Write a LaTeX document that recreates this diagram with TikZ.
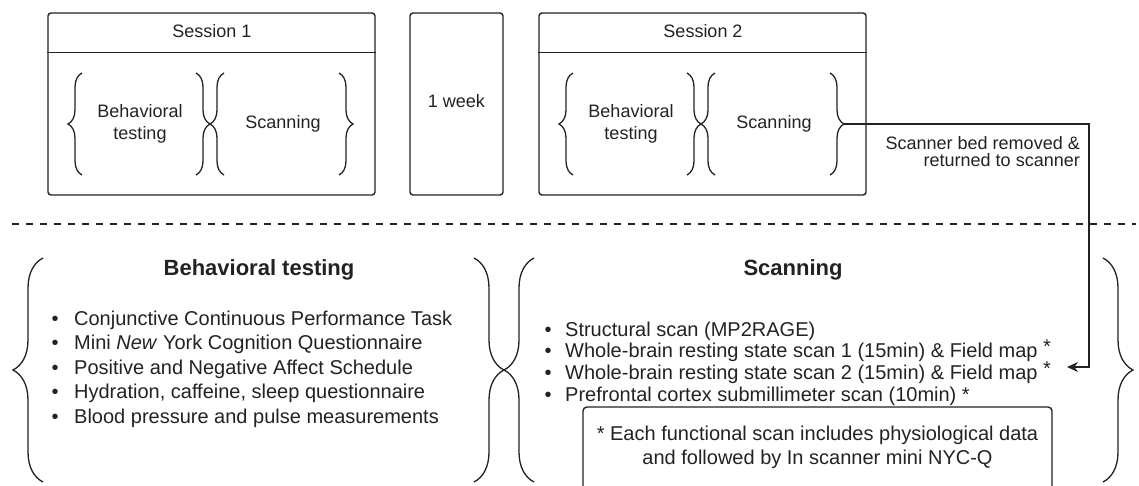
\documentclass[tikz,border=0pt]{standalone}
\usepackage{fontspec}
\setmainfont{Liberation Sans}
\usetikzlibrary{decorations.pathreplacing,arrows.meta}
\definecolor{ink}{HTML}{222222}

\tikzset{
  sessbox/.style={draw=ink, line width=1.4pt, rounded corners=3pt, minimum width=327pt, minimum height=182pt, inner sep=0pt},
  toptext/.style={text=ink, font=\fontsize{18pt}{22.5pt}\selectfont, align=center, inner sep=0pt},
  small curly/.style={draw=ink, line width=1.3pt, decorate, decoration={brace, amplitude=14pt}},
  big curly/.style={draw=ink, line width=1.3pt, decorate, decoration={brace, amplitude=30pt}},
  heading/.style={text=ink, font=\bfseries\fontsize{22pt}{26pt}\selectfont, inner sep=0pt, anchor=base},
  item/.style={text=ink, font=\fontsize{20pt}{24pt}\selectfont, inner sep=0pt, anchor=base west},
  conn/.style={draw=ink, line width=1.6pt, -{Stealth[length=11pt,width=10pt]}},
}

\begin{document}
\begin{tikzpicture}[x=1pt, y=1pt]
  \path[use as bounding box, clip] (0,0) rectangle (1139,-485);

  % the two sessions
  \foreach \n/\dx in {1/0, 2/491} {
    \node[sessbox] (sess\n) at (211.5+\dx,-104) {};
    \draw[ink, line width=1.4pt] ([yshift=-40pt]sess\n.north west) -- ([yshift=-40pt]sess\n.north east);
    \node[toptext, anchor=base] (title\n) at (212+\dx,-37) {Session \n};
    \node[toptext, anchor=north] (beh\n) at (140+\dx,-104) {Behavioral\\testing};
    \node[toptext, anchor=base] (scan\n) at (283+\dx,-128) {Scanning};
    \draw[small curly] (82+\dx,-175) -- (82+\dx,-73);
    \draw[small curly] (196+\dx,-73) -- (196+\dx,-175);
    \draw[small curly] (224+\dx,-175) -- (224+\dx,-73);
    \draw[small curly] (339+\dx,-73) -- (339+\dx,-175);
    \coordinate (scantip\n) at (353+\dx,-124);
  }

  % gap between sessions
  \node[sessbox, minimum width=93pt] (week) at (456.5,-104) {};
  \node[toptext, anchor=base] (weektext) at (456.5,-107) {1 week};

  \draw[ink, line width=1.3pt, dash pattern=on 7pt off 7pt] (12,-224) -- (1136,-224);

  % behavioral testing details
  \draw[big curly] (43,-482) -- (43,-258);
  \draw[big curly] (474,-258) -- (474,-482);
  \node[heading] (behhead) at (259,-275) {Behavioral testing};
  \foreach \txt [count=\i from 0] in {Conjunctive Continuous Performance Task,
      Mini \textit{New} York Cognition Questionnaire,
      Positive and Negative Affect Schedule,
      {Hydration, caffeine, sleep questionnaire},
      Blood pressure and pulse measurements}
    \node[item] (behitem\i) at (51.5,-325-24.5*\i) {\makebox[22.5pt][l]{\textbullet}\txt};

  % scanning details
  \draw[big curly] (534,-482) -- (534,-258);
  \draw[big curly] (1103,-258) -- (1103,-482);
  \node[heading] (scanhead) at (793,-275) {Scanning};
  \foreach \txt [count=\i from 0] in {Structural scan (MP2RAGE),
      Whole-brain resting state scan 1 (15min) \& Field map \raisebox{4pt}{*},
      Whole-brain resting state scan 2 (15min) \& Field map \raisebox{4pt}{*},
      Prefrontal cortex submillimeter scan (10min) *}
    \node[item] (scanitem\i) at (544.5,-336-21.7*\i) {\makebox[20.5pt][l]{\textbullet}\txt};

  \node[draw=ink, line width=1.4pt, rounded corners=4pt, minimum width=469pt, minimum height=90pt] (notebox) at (817.5,-452) {};
  \node[item, anchor=north, align=center] (notetext) at (817.5,-425.5) {* Each functional scan includes physiological data\\and followed by In scanner mini NYC-Q};

  % scanner bed re-entry
  \coordinate (bend) at (1089,-124);
  \coordinate (backin) at (1067,-367);
  \draw[conn] (scantip2) -- (bend) |- (backin);
  \node[toptext, align=right, anchor=north east, font=\fontsize{18pt}{17pt}\selectfont] (bedlabel) at (1080,-136) {Scanner bed removed \&\\returned to scanner};
\end{tikzpicture}
\end{document}
